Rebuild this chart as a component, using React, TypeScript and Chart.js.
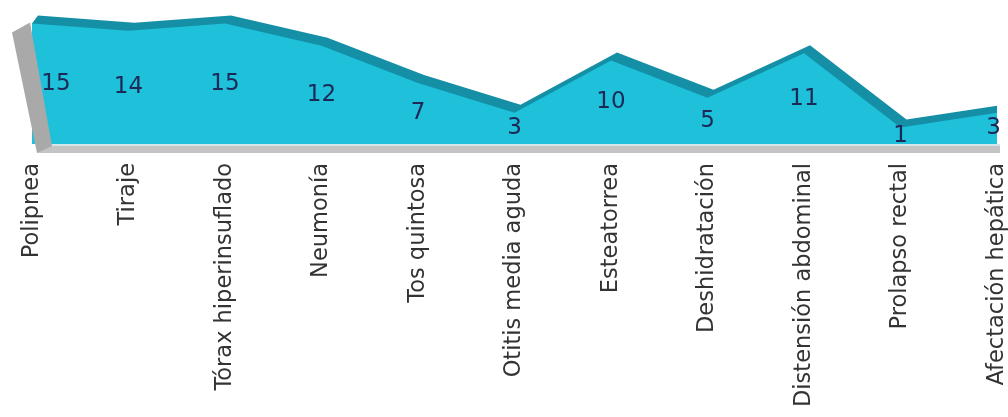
import { useEffect, useRef } from "react";
import { Chart, registerables } from "chart.js";

Chart.register(...registerables);

const categories = [
  "Polipnea",
  "Tiraje",
  "Tórax hiperinsuflado",
  "Neumonía",
  "Tos quintosa",
  "Otitis media aguda",
  "Esteatorrea",
  "Deshidratación",
  "Distensión abdominal",
  "Prolapso rectal",
  "Afectación hepática",
];
const values = [15, 14, 15, 12, 7, 3, 10, 5, 11, 1, 3];

const FRONT = "#1ec0da";
const TOP = "#148fa6";
const WALL = "#a9a9a9";
const FLOOR = "#c4c4c4";
const FLOOR_EDGE = "#d4e6ea";
const FONT = "'DejaVu Sans', Verdana, sans-serif";
const DX = 6;
const DY = 8;
const SLANT = 20;

function slantClip(chart: any) {
  const pts = chart.getDatasetMeta(0).data;
  const base = chart.chartArea.bottom;
  const x0 = pts[0].x;
  const y0 = pts[0].y;
  const k = (SLANT + 2) / (base - y0);
  const ax = x0 - 2 - k * y0;
  const bx = x0 + SLANT + k * (chart.height - base);
  return { ax, bx, x0, y0, base, pts };
}

const depthPlugin = {
  id: "depth3d",
  beforeDatasetsDraw(chart: any) {
    const { ctx } = chart;
    const { pts, base } = slantClip(chart);
    const last = pts[pts.length - 1];
    ctx.save();
    ctx.beginPath();
    ctx.rect(0, 0, last.x, chart.height);
    ctx.clip();
    ctx.beginPath();
    ctx.moveTo(pts[0].x, pts[0].y);
    pts.forEach((p: any) => ctx.lineTo(p.x + DX, p.y - DY));
    ctx.lineTo(last.x + DX, base);
    ctx.lineTo(pts[0].x, base);
    ctx.closePath();
    ctx.fillStyle = TOP;
    ctx.fill();
    ctx.restore();
  },
  beforeDatasetDraw(chart: any) {
    const { ctx } = chart;
    const { ax, bx } = slantClip(chart);
    ctx.save();
    ctx.beginPath();
    ctx.moveTo(ax, 0);
    ctx.lineTo(chart.width, 0);
    ctx.lineTo(chart.width, chart.height);
    ctx.lineTo(bx, chart.height);
    ctx.closePath();
    ctx.clip();
  },
  afterDatasetDraw(chart: any) {
    chart.ctx.restore();
  },
  afterDatasetsDraw(chart: any) {
    const { ctx } = chart;
    const { x0, y0, base, pts } = slantClip(chart);
    const last = pts[pts.length - 1];
    // floor
    ctx.beginPath();
    ctx.moveTo(x0 + SLANT, base);
    ctx.lineTo(last.x + 3, base);
    ctx.lineTo(last.x + 3, base + 9);
    ctx.lineTo(x0 + 5, base + 9);
    ctx.closePath();
    ctx.fillStyle = FLOOR;
    ctx.fill();
    ctx.fillStyle = FLOOR_EDGE;
    ctx.fillRect(x0 + SLANT, base, last.x + 3 - x0 - SLANT, 2);
    // left wall
    ctx.beginPath();
    ctx.moveTo(x0 - 20, y0 + 9);
    ctx.lineTo(x0 - 2, y0 - 1);
    ctx.lineTo(x0 + SLANT, base + 2);
    ctx.lineTo(x0 + 5, base + 9);
    ctx.closePath();
    ctx.fillStyle = WALL;
    ctx.fill();
    // value labels
    ctx.font = `23px ${FONT}`;
    ctx.fillStyle = "#1c2856";
    ctx.textAlign = "center";
    ctx.textBaseline = "middle";
    pts.forEach((p: any, i: number) => {
      const txt = String(values[i]);
      const w = ctx.measureText(txt).width;
      let cx = Math.max(p.x, x0 + 24);
      cx = Math.min(cx, last.x - w / 2 + 4);
      ctx.fillText(txt, cx, (p.y + base) / 2);
    });
  },
};

export default function App() {
  const ref = useRef<HTMLCanvasElement | null>(null);
  useEffect(() => {
    if (!ref.current) return;
    const chart = new Chart(ref.current, {
      type: "line",
      data: {
        labels: categories,
        datasets: [
          {
            data: values,
            fill: "start",
            backgroundColor: FRONT,
            borderWidth: 0,
            pointRadius: 0,
            tension: 0,
          },
        ],
      },
      options: {
        animation: false,
        responsive: false,
        devicePixelRatio: 1,
        layout: { padding: { left: 32, right: 11, top: 10, bottom: 0 } },
        plugins: { legend: { display: false }, tooltip: { enabled: false } },
        scales: {
          x: {
            offset: false,
            grid: { display: false, drawTicks: false },
            border: { display: false },
            ticks: {
              autoSkip: false,
              maxRotation: 90,
              minRotation: 90,
              padding: 19,
              color: "#333",
              font: { family: FONT, size: 22.5 },
            },
            afterFit: (s: any) => {
              s.height = 417 - 144;
              s.paddingLeft = 0;
              s.paddingRight = 0;
            },
          },
          y: { display: false, min: -1.2, max: 16.8 },
        },
      },
      plugins: [depthPlugin],
    });
    return () => chart.destroy();
  }, []);
  return (
    <div style={{ position: "absolute", left: 0, top: 0, width: 1008, height: 417, background: "#fff" }}>
      <canvas ref={ref} width={1008} height={417} style={{ display: "block" }} />
    </div>
  );
}
